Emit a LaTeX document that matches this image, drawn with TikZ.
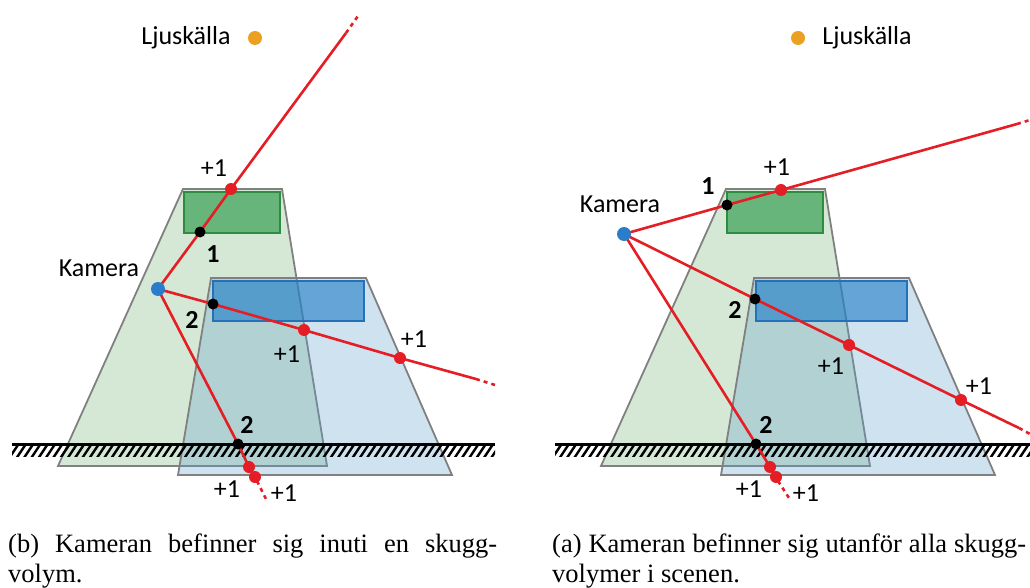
\documentclass[tikz,border=0pt]{standalone}
\usepackage{fontspec}
\setmainfont{Liberation Serif}
\newfontfamily\lblfont{Carlito}
\usetikzlibrary{positioning}
\definecolor{shGreen}{RGB}{132,189,135}
\definecolor{shBlue}{RGB}{95,158,205}
\definecolor{occGreen}{RGB}{103,181,122}
\definecolor{occGreenDark}{RGB}{45,140,62}
\definecolor{occBlue}{RGB}{29,124,198}
\definecolor{occBlueDark}{RGB}{38,112,185}
\definecolor{rayRed}{RGB}{228,30,36}
\definecolor{camBlue}{RGB}{42,125,200}
\definecolor{lightOrange}{RGB}{234,160,32}
\definecolor{edgeGray}{RGB}{128,128,128}
\tikzset{
    % Shadow volumes
    volGreen/.style={fill=shGreen, fill opacity=0.35, draw=edgeGray, line width=1.8pt},
    volBlue/.style={fill=shBlue, fill opacity=0.3, draw=edgeGray, line width=1.8pt},
    % Occluders
    occG/.style={fill=occGreen, draw=occGreenDark, line width=2.6pt},
    occB/.style={fill=occBlue, fill opacity=0.6, draw=occBlueDark, line width=2.6pt},
    % Dots
    camDot/.style={circle, fill=camBlue, inner sep=0pt, minimum size=14pt},
    lightDot/.style={circle, fill=lightOrange, inner sep=0pt, minimum size=14pt},
    hitDot/.style={circle, fill=black, inner sep=0pt, minimum size=11pt},
    cntDot/.style={circle, fill=rayRed, inner sep=0pt, minimum size=12pt},
    % Rays
    ray/.style={draw=rayRed, line width=2.6pt},
    rayEnd/.style={draw=rayRed, line width=2.6pt, dash pattern=on 4pt off 4pt},
    % Texts
    lbl/.style={font=\lblfont\fontsize{26}{30}\selectfont, inner sep=2pt},
    num/.style={font=\lblfont\bfseries\fontsize{26}{30}\selectfont, inner sep=2pt},
    capText/.style={font=\fontsize{26.5}{30}\selectfont, align=justify, inner sep=0pt, anchor=north west}
}
\begin{document}
\begin{tikzpicture}[x=1pt, y=-1pt]
\useasboundingbox (0,0) rectangle (1030,588);

% Scene (same in both panels)
\foreach \p/\dx/\side in {L/0/left, R/543/right} {
  \begin{scope}[xshift=\dx pt]
    \draw[volGreen] (183,189) -- (282,189) -- (327,466) -- (58,466) -- cycle;
    \draw[volBlue] (211,278) -- (366,278) -- (452,475) -- (178,475) -- cycle;
    \draw[occG] (184,192) rectangle (280,233);
    \draw[occB] (213,281) rectangle (364,321);
    % ground
    \begin{scope}
      \clip (12,444) rectangle (495,456);
      \foreach \x in {0,7.3,...,500}
        \draw[line width=2.4pt] (\x+2,458) -- (\x+12,443);
    \end{scope}
    \draw[line width=3pt] (12,444) -- (495,444);
    \node[lightDot] (light\p) at (255,38) {};
    \node[lbl, \side=15pt of light\p] (lightLbl\p) {Ljuskälla};
  \end{scope}
}

% Left: camera inside a shadow volume
\coordinate (camL) at (158,289);
\coordinate (hL1) at (200,232);
\coordinate (pL1) at (231,189);
\coordinate (eL1) at (346,33);
\coordinate (fL1) at (358,16);
\coordinate (hL2) at (213,304);
\coordinate (pL2) at (304,330);
\coordinate (qL2) at (400,358);
\coordinate (eL2) at (476,379);
\coordinate (fL2) at (495,385);
\coordinate (hL3) at (238,444);
\coordinate (pL3) at (249,467);
\coordinate (qL3) at (255,477);
\coordinate (eL3) at (257,481);
\coordinate (fL3) at (267,501);
\draw[ray] (camL) -- (hL1) -- (pL1) -- (eL1);
\draw[rayEnd] (eL1) -- (fL1);
\draw[ray] (camL) -- (hL2) -- (pL2) -- (qL2) -- (eL2);
\draw[rayEnd] (eL2) -- (fL2);
\draw[ray] (camL) -- (hL3) -- (pL3) -- (qL3) -- (eL3);
\draw[rayEnd] (eL3) -- (fL3);
\foreach \h in {hL1,hL2,hL3} \node[hitDot] at (\h) {};
\foreach \c in {pL1,pL2,qL2,pL3,qL3} \node[cntDot] at (\c) {};
\node[camDot] (camDotL) at (camL) {};
\node[lbl] (camLblL) at (99,268) {Kamera};
\node[lbl] at (214,168) {+1};
\node[num] at (213,254) {1};
\node[num] at (192,320) {2};
\node[lbl] at (287,354) {+1};
\node[lbl] at (414,339) {+1};
\node[num] at (247,425) {2};
\node[lbl] at (227,489) {+1};
\node[lbl] at (284,493) {+1};

% Right: camera outside all shadow volumes
\coordinate (camR) at (624,234);
\coordinate (hR1) at (727,205);
\coordinate (pR1) at (781,190);
\coordinate (eR1) at (1017,124);
\coordinate (fR1) at (1030,120);
\coordinate (hR2) at (755,299);
\coordinate (pR2) at (849,345);
\coordinate (qR2) at (961,400);
\coordinate (eR2) at (1019,428);
\coordinate (fR2) at (1030,434);
\coordinate (hR3) at (756,444);
\coordinate (pR3) at (770,467);
\coordinate (qR3) at (776,477);
\coordinate (eR3) at (778,481);
\coordinate (fR3) at (791,501);
\draw[ray] (camR) -- (hR1) -- (pR1) -- (eR1);
\draw[rayEnd] (eR1) -- (fR1);
\draw[ray] (camR) -- (hR2) -- (pR2) -- (qR2) -- (eR2);
\draw[rayEnd] (eR2) -- (fR2);
\draw[ray] (camR) -- (hR3) -- (pR3) -- (qR3) -- (eR3);
\draw[rayEnd] (eR3) -- (fR3);
\foreach \h in {hR1,hR2,hR3} \node[hitDot] at (\h) {};
\foreach \c in {pR1,pR2,qR2,pR3,qR3} \node[cntDot] at (\c) {};
\node[camDot] (camDotR) at (camR) {};
\node[lbl] (camLblR) at (620,204) {Kamera};
\node[num] at (708,186) {1};
\node[lbl] at (777,167) {+1};
\node[num] at (735,310) {2};
\node[lbl] at (831,366) {+1};
\node[lbl] at (979,386) {+1};
\node[num] at (766,425) {2};
\node[lbl] at (749,489) {+1};
\node[lbl] at (806,493) {+1};

% Captions
\node[capText, text width=489pt] (capL) at (8,534) {(b) Kameran befinner sig inuti en skugg-\linebreak volym.};
\node[capText, text width=474pt] (capR) at (552,534) {(a) Kameran befinner sig utanför alla skugg-\linebreak volymer i scenen.};
\end{tikzpicture}
\end{document}
